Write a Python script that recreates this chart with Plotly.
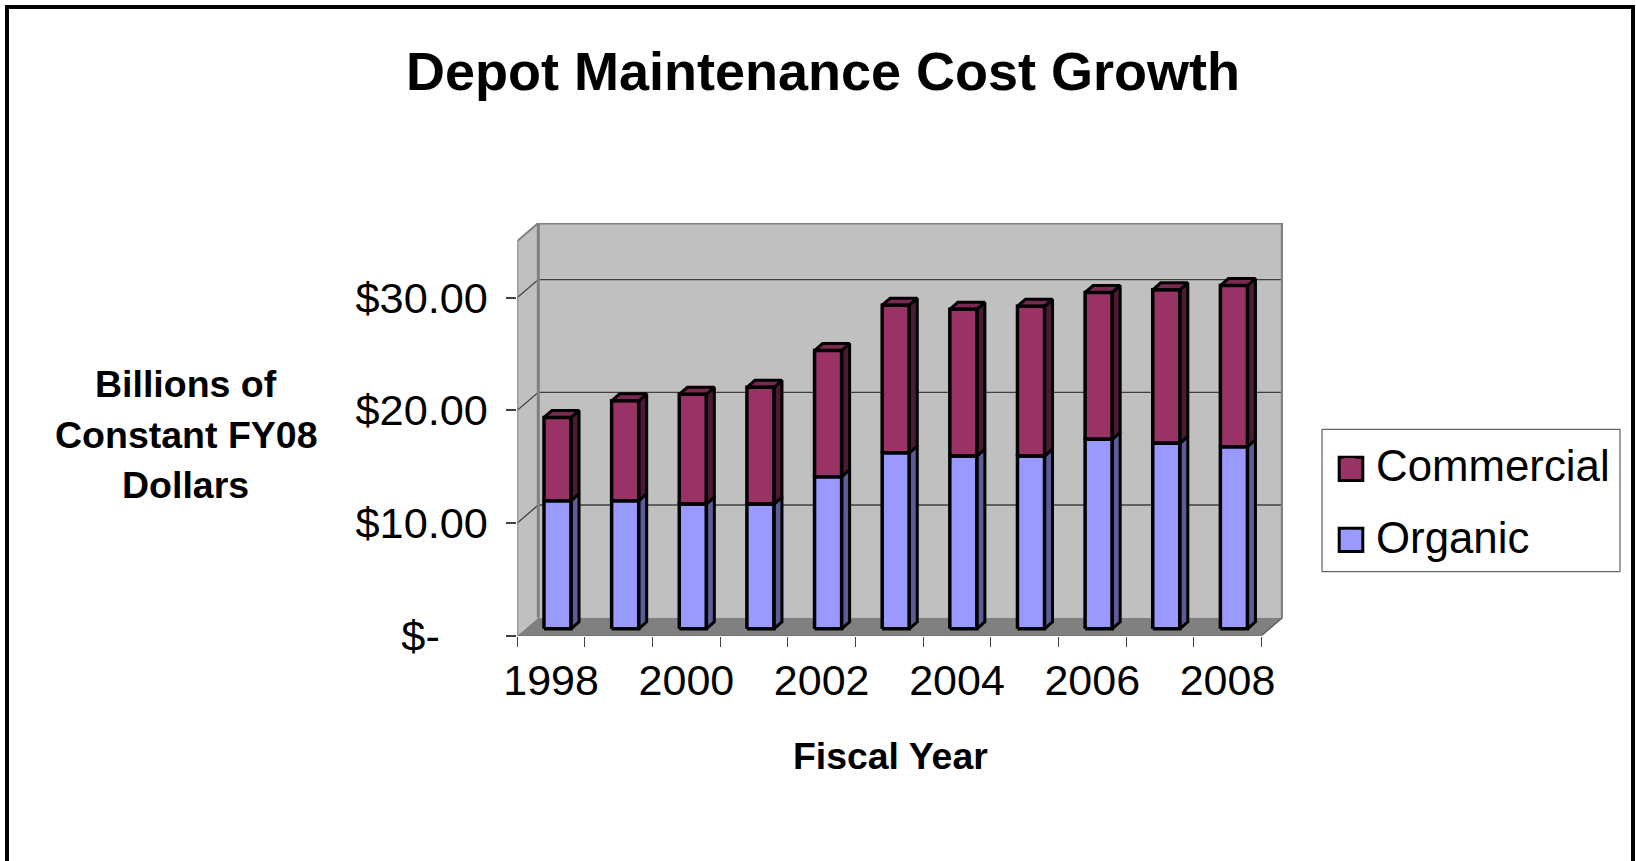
import plotly.graph_objects as go

# ---------- data ----------
years = [1998, 1999, 2000, 2001, 2002, 2003, 2004, 2005, 2006, 2007, 2008]
organic = [11.37, 11.37, 11.07, 11.07, 13.5, 15.62, 15.33, 15.33, 16.81, 16.46, 16.16]
commercial = [7.38, 8.86, 9.74, 10.36, 11.19, 13.1, 13.02, 13.29, 13.03, 13.62, 14.3]
year_ticks = [1998, 2000, 2002, 2004, 2006, 2008]
value_ticks = [0, 10, 20, 30]
value_labels = ["$-\u00a0\u00a0\u00a0\u00a0", "$10.00", "$20.00", "$30.00"]

# ---------- page geometry (pixels) ----------
W, H = 1636, 861
FRONT_L, FRONT_B = 517.3, 635.7
BACK_R, BACK_T = 1283.0, 223.0
PX_X = 67.64    # pixels per year
PX_Y = 11.27    # pixels per value unit

x_lo = years[0] - 0.5
x_hi = x_lo + (BACK_R - FRONT_L) / PX_X
front_hi = years[-1] + 0.5
y_hi = (FRONT_B - BACK_T) / PX_Y

wall_dx, wall_dy = 21 / PX_X, 18 / PX_Y     # depth of the box
y_top_front = y_hi - wall_dy
bar_off_x, bar_base = 6.4 / PX_X, 6.9 / PX_Y  # bars stand inside the box
bar_w = 0.40
side_dx, side_dy = 8 / PX_X, 7 / PX_Y        # depth of each bar

WALL, FLOOR, EDGE = "#C0C0C0", "#808080", "#808080"
ORG, ORG_SIDE = "#9999FF", "#5C5C99"
COM, COM_SIDE, COM_TOP = "#993366", "#4D1A33", "#7A2952"


def px(x):
    return x / W


def py(y):
    return 1 - y / H


def polys(rects):
    xs, ys = [], []
    for pts in rects:
        xs += [p[0] for p in pts] + [pts[0][0], None]
        ys += [p[1] for p in pts] + [pts[0][1], None]
    return xs, ys


org_base = [bar_base] * len(years)
com_base = [bar_base + o for o in organic]
tops = [bar_base + o + c for o, c in zip(organic, commercial)]
lefts = [y + bar_off_x - bar_w / 2 for y in years]
rights = [y + bar_off_x + bar_w / 2 for y in years]

fig = go.Figure()

# front faces: real stacked bars
fig.add_trace(go.Bar(x=years, y=commercial, base=com_base, name="Commercial", legendgroup="c",
                     width=bar_w, offset=bar_off_x - bar_w / 2, marker=dict(color=COM, line=dict(width=0))))
fig.add_trace(go.Bar(x=years, y=organic, base=org_base, name="Organic", legendgroup="o",
                     width=bar_w, offset=bar_off_x - bar_w / 2, marker=dict(color=ORG, line=dict(width=0))))


def face(pts_list, color):
    xs, ys = polys(pts_list)
    fig.add_trace(go.Scatter(x=xs, y=ys, mode="lines", fill="toself", fillcolor=color,
                             line=dict(color="black", width=3), showlegend=False, hoverinfo="skip"))


# side and top faces derived from the same values
face([[(r, b), (r + side_dx, b + side_dy), (r + side_dx, b + v + side_dy), (r, b + v)]
      for r, b, v in zip(rights, org_base, organic)], ORG_SIDE)
face([[(r, b), (r + side_dx, b + side_dy), (r + side_dx, b + v + side_dy), (r, b + v)]
      for r, b, v in zip(rights, com_base, commercial)], COM_SIDE)
face([[(l, t), (l + side_dx, t + side_dy), (r + side_dx, t + side_dy), (r, t)]
      for l, r, t in zip(lefts, rights, tops)], COM_TOP)

# black outlines of the front faces
ox, oy = polys([[(l, b), (r, b), (r, b + v), (l, b + v)] for l, r, b, v in zip(lefts, rights, org_base, organic)] +
               [[(l, b), (r, b), (r, b + v), (l, b + v)] for l, r, b, v in zip(lefts, rights, com_base, commercial)])
fig.add_trace(go.Scatter(x=ox, y=oy, mode="lines", line=dict(color="black", width=3.5),
                         showlegend=False, hoverinfo="skip"))

shapes = []


def path_shape(pts, fill=None, color=None, width=0, layer="below"):
    d = "M" + "L".join(f"{a},{b}" for a, b in pts) + ("Z" if fill else "")
    shapes.append(dict(type="path", path=d, xref="x", yref="y", layer=layer,
                       fillcolor=fill if fill else "rgba(0,0,0,0)",
                       line=dict(color=color if color else "rgba(0,0,0,0)", width=width)))


bx_l, bx_r = x_lo + wall_dx, front_hi + wall_dx
# left wall, back wall, floor
path_shape([(x_lo, 0), (bx_l, wall_dy), (bx_l, y_hi), (x_lo, y_top_front)], fill=WALL)
path_shape([(bx_l, wall_dy), (bx_r, wall_dy), (bx_r, y_hi), (bx_l, y_hi)], fill=WALL)
path_shape([(x_lo, 0), (bx_l, wall_dy), (bx_r, wall_dy), (front_hi, 0)], fill=FLOOR)
# grid lines on the walls
for v in value_ticks[1:]:
    path_shape([(x_lo, v), (bx_l, v + wall_dy), (bx_r, v + wall_dy)], color="#404040", width=1.3)
# box edges
path_shape([(bx_l, wall_dy), (bx_l, y_hi), (bx_r, y_hi), (bx_r, wall_dy)], color=EDGE, width=3)
path_shape([(x_lo, 0), (x_lo, y_top_front), (bx_l, y_hi)], color=EDGE, width=2)
path_shape([(x_lo - 10.7 / PX_X, 0), (front_hi, 0), (bx_r, wall_dy)], color="#606060", width=1.5)

# page frame
frame = dict(type="path", xref="paper", yref="paper", layer="above",
             path=f"M{px(7)},{py(H)}L{px(7)},{py(7)}L{px(1633)},{py(7)}L{px(1633)},{py(H)}",
             line=dict(color="black", width=4))
shapes.append(frame)

# legend box and swatches at the reference size, under the transparent native legend
shapes.append(dict(type="rect", xref="paper", yref="paper", layer="above",
                   x0=px(1322), x1=px(1620), y0=py(429.3), y1=py(571.7),
                   fillcolor="rgba(0,0,0,0)", line=dict(color="#404040", width=1)))
for top, col in [(457.2, COM), (528.2, ORG)]:
    shapes.append(dict(type="rect", xref="paper", yref="paper", layer="above",
                       x0=px(1339.2), x1=px(1362.8), y0=py(top), y1=py(top + 23.4),
                       fillcolor=col, line=dict(color="black", width=3)))

font = "Liberation Sans"
annots = [
    dict(text="<b>Depot Maintenance Cost Growth</b>", x=px(823), y=py(71), font=dict(size=54)),
    dict(text="<b>Billions of</b>", x=px(186), y=py(384), font=dict(size=37.5)),
    dict(text="<b>Constant FY08</b>", x=px(186), y=py(435), font=dict(size=37.5)),
    dict(text="<b>Dollars</b>", x=px(185), y=py(485), font=dict(size=37.5)),
    dict(text="<b>Fiscal Year</b>", x=px(890), y=py(756), font=dict(size=37.4)),
]
for a in annots:
    a.update(xref="paper", yref="paper", xanchor="center", yanchor="middle", showarrow=False, align="center")
    a["font"].update(family=font, color="black")

fig.update_layout(
    width=W, height=H, autosize=False, margin=dict(l=0, r=0, t=0, b=0, pad=0),
    paper_bgcolor="white", plot_bgcolor="rgba(0,0,0,0)",
    barmode="overlay", shapes=shapes, annotations=annots,
    font=dict(family=font, color="black"),
    legend=dict(x=px(1323), y=py(429), xanchor="left", yanchor="top", bgcolor="rgba(0,0,0,0)",
                borderwidth=0, font=dict(size=43.8), itemwidth=43,
                traceorder="grouped", tracegroupgap=12, itemclick=False, itemdoubleclick=False),
    xaxis=dict(domain=[px(FRONT_L), px(BACK_R)], range=[x_lo, x_hi], tickmode="array", automargin=False,
               tickvals=year_ticks, ticktext=[str(y) for y in year_ticks], ticks="", showgrid=False,
               zeroline=False, showline=False, tickfont=dict(size=43), ticklabelstandoff=15,
               minor=dict(tickmode="array", tickvals=[y - 0.5 for y in years] + [front_hi], ticks="outside",
                          ticklen=10, tickwidth=1.3, tickcolor="#404040", showgrid=False)),
    yaxis=dict(domain=[py(FRONT_B), py(BACK_T)], range=[0, y_hi], tickmode="array", tickvals=value_ticks,
               automargin=False, ticktext=value_labels, ticks="outside", ticklen=10.7, tickwidth=1.5,
               tickcolor="#404040", showgrid=False, zeroline=False, showline=False, tickfont=dict(size=43.3),
               ticklabelstandoff=9),
)

fig.write_html("out.html", config=dict(displayModeBar=False),
               post_script="document.body.style.margin='0';document.body.style.overflow='hidden';")
